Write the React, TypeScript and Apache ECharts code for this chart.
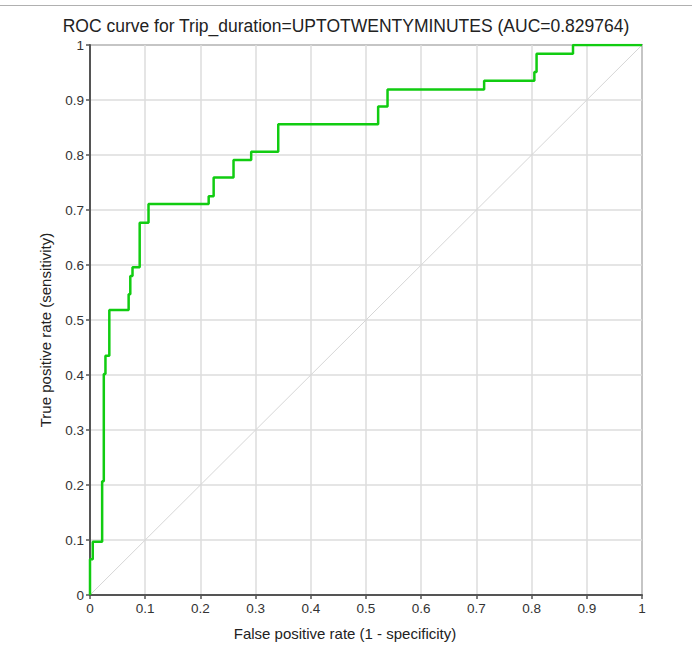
import React, { useEffect, useRef } from "react";
import * as echarts from "echarts";

const titleText = "ROC curve for Trip_duration=UPTOTWENTYMINUTES (AUC=0.829764)";
const xAxisTitle = "False positive rate (1 - specificity)";
const yAxisTitle = "True positive rate (sensitivity)";

// ROC vertices (fpr, tpr) – step curve: horizontal then vertical
const fpr = [0, 0, 0.005, 0.022, 0.025, 0.028, 0.035, 0.070, 0.073, 0.077, 0.090, 0.106, 0.215, 0.224, 0.260, 0.292, 0.341, 0.522, 0.539, 0.714, 0.805, 0.809, 0.875, 1.0];
const tpr = [0, 0.065, 0.097, 0.207, 0.402, 0.435, 0.518, 0.547, 0.580, 0.596, 0.677, 0.711, 0.725, 0.759, 0.791, 0.806, 0.856, 0.888, 0.919, 0.935, 0.951, 0.984, 1.0, 1.0];

const diagX = [0, 1];
const diagY = [0, 1];

export default function App() {
  const ref = useRef<HTMLDivElement>(null);
  useEffect(() => {
    if (!ref.current) return;
    const chart = echarts.init(ref.current, null, { renderer: "svg" });
    const font = "'Liberation Sans', Arial, sans-serif";
    const fmt = (v: number) => {
      const r = Math.round(v * 10) / 10;
      return String(r);
    };
    chart.setOption({
      animation: false,
      backgroundColor: "#ffffff",
      textStyle: { fontFamily: font },
      title: {
        text: titleText,
        left: "center",
        top: 12,
        textStyle: { fontFamily: font, fontSize: 17.5, fontWeight: "normal", color: "#222" },
      },
      grid: {
        left: 90,
        top: 45,
        right: 50,
        bottom: 51,
        show: true,
        borderColor: "#555",
        borderWidth: 1.5,
        backgroundColor: "transparent",
      },
      xAxis: {
        type: "value",
        min: 0,
        max: 1,
        interval: 0.1,
        axisLine: { show: true, lineStyle: { color: "#555", width: 2 } },
        axisTick: { show: true, length: 4, lineStyle: { color: "#555", width: 1.5 } },
        axisLabel: { margin: 6, fontSize: 13.5, color: "#333", fontFamily: font, formatter: fmt },
        splitLine: { show: true, lineStyle: { color: "#dddddd", width: 1.5 } },
      },
      yAxis: {
        type: "value",
        min: 0,
        max: 1,
        interval: 0.1,
        axisLine: { show: true, lineStyle: { color: "#555", width: 2 } },
        axisTick: { show: true, length: 4, lineStyle: { color: "#555", width: 1.5 } },
        axisLabel: { margin: 6, fontSize: 13.5, color: "#333", fontFamily: font, formatter: fmt },
        splitLine: { show: true, lineStyle: { color: "#dddddd", width: 1.5 } },
      },
      graphic: [
        {
          type: "line",
          shape: { x1: 0, y1: 5.5, x2: 692, y2: 5.5 },
          style: { stroke: "#b0b0b0", lineWidth: 1 },
        },
        {
          type: "text",
          x: 345,
          y: 633,
          style: {
            text: xAxisTitle,
            fontFamily: font,
            fontSize: 15,
            fill: "#222",
            align: "center",
            verticalAlign: "middle",
          },
        },
        {
          type: "text",
          x: 45,
          y: 330,
          rotation: Math.PI / 2,
          style: {
            text: yAxisTitle,
            fontFamily: font,
            fontSize: 15,
            fill: "#222",
            align: "center",
            verticalAlign: "middle",
          },
        },
      ],
      series: [
        {
          type: "line",
          data: diagX.map((x, i) => [x, diagY[i]]),
          symbol: "none",
          lineStyle: { color: "#d6d6d6", width: 1 },
          z: 2,
        },
        {
          type: "line",
          data: fpr.map((x, i) => [x, tpr[i]]),
          step: "end",
          symbol: "none",
          lineStyle: { color: "#11cc11", width: 2.5 },
          z: 3,
        },
      ],
    });
    return () => chart.dispose();
  }, []);
  return (
    <div
      ref={ref}
      style={{ position: "fixed", left: 0, top: 0, width: 692, height: 646 }}
    />
  );
}
